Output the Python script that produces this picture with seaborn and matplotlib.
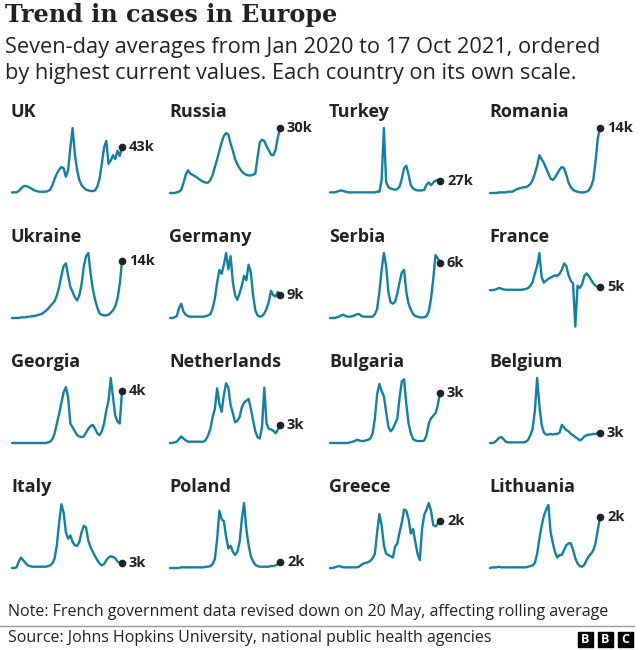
import numpy as np
import pandas as pd
import matplotlib
matplotlib.use("Agg")
import matplotlib.pyplot as plt
import seaborn as sns
from matplotlib.patches import Rectangle

# Seven-day averages, each country scaled to its own max (=100), ~2 week steps
countries = ["UK", "Russia", "Turkey", "Romania",
             "Ukraine", "Germany", "Serbia", "France",
             "Georgia", "Netherlands", "Bulgaria", "Belgium",
             "Italy", "Poland", "Greece", "Lithuania"]
latest = ["43k", "30k", "27k", "14k", "14k", "9k", "6k", "5k",
          "4k", "3k", "3k", "3k", "3k", "2k", "2k", "2k"]

uk = [1, 1, 1, 3, 7, 10, 11, 10, 8, 6, 4, 3, 2, 2, 2, 2, 3, 5, 12, 22,
      30, 36, 40, 38, 25, 35, 70, 100, 60, 35, 20, 12, 8, 5, 4, 3, 3, 4, 10, 22,
      45, 70, 80, 45, 50, 58, 52, 65, 57, 71]
russia = [0, 0, 0, 1, 2, 5, 15, 28, 35, 30, 28, 26, 24, 21, 19, 17, 16, 16, 20, 28,
          40, 52, 65, 78, 88, 92, 90, 76, 65, 52, 44, 38, 33, 30, 28, 27, 27, 28, 30, 55,
          78, 82, 80, 72, 66, 59, 58, 66, 85, 100]
turkey = [1, 1, 1, 2, 3, 4, 3, 2, 1, 1, 1, 1, 1, 1, 1, 1, 1, 1, 1, 1,
          1, 2, 2, 20, 100, 17, 9, 7, 6, 5, 6, 10, 22, 38, 42, 28, 12, 7, 5, 4,
          4, 4, 5, 13, 16, 12, 16, 19, 20, 18]
romania = [0, 0, 0, 0, 1, 1, 1, 1, 2, 2, 2, 4, 6, 7, 8, 9, 9, 11, 14, 20,
           30, 42, 58, 52, 46, 38, 30, 22, 20, 24, 30, 36, 40, 38, 28, 16, 9, 5, 3, 2,
           1, 1, 1, 2, 4, 10, 20, 48, 84, 100]
ukraine = [0, 0, 0, 0, 1, 1, 1, 2, 2, 3, 3, 4, 5, 6, 8, 11, 14, 18, 22, 26,
           35, 48, 65, 80, 84, 65, 48, 40, 32, 27, 35, 52, 80, 95, 100, 68, 45, 28, 16, 7,
           5, 4, 4, 5, 8, 12, 18, 30, 52, 87]
germany = [0, 0, 1, 3, 15, 22, 10, 5, 3, 2, 2, 2, 2, 2, 2, 2, 3, 4, 6, 15,
           30, 55, 74, 68, 82, 100, 75, 95, 55, 35, 28, 38, 50, 65, 58, 82, 70, 35, 12, 4,
           2, 3, 7, 14, 25, 42, 35, 33, 40, 35]
serbia = [0, 0, 0, 1, 2, 4, 5, 3, 2, 2, 3, 4, 6, 6, 3, 2, 2, 2, 2, 2,
          6, 14, 40, 74, 100, 80, 40, 24, 22, 25, 38, 55, 70, 74, 40, 22, 13, 6, 3, 2,
          1, 1, 1, 3, 10, 30, 60, 97, 92, 85]
# France goes negative after the 20 May revision
france = [0, 0, 1, 3, 6, 4, 2, 1, 1, 1, 1, 1, 1, 1, 1, 2, 3, 6, 12, 22,
          45, 65, 100, 35, 20, 26, 30, 34, 37, 40, 38, 44, 55, 72, 65, 40, 25, 18, -98, 12,
          6, 16, 38, 45, 38, 28, 18, 12, 9, 9]
georgia = [0, 0, 0, 0, 0, 0, 0, 0, 0, 0, 0, 0, 0, 0, 0, 0, 1, 2, 6, 15,
           30, 45, 62, 78, 86, 70, 30, 24, 18, 12, 10, 9, 10, 16, 22, 26, 28, 22, 15, 12,
           18, 30, 50, 65, 100, 70, 42, 33, 30, 80]
netherlands = [0, 0, 1, 2, 6, 10, 7, 4, 2, 2, 2, 2, 2, 2, 2, 2, 5, 12, 22, 40,
               53, 84, 60, 48, 74, 92, 85, 58, 46, 32, 34, 40, 55, 62, 65, 68, 53, 35, 18, 9,
               7, 25, 85, 30, 22, 21, 19, 15, 20, 28]
bulgaria = [0, 0, 0, 0, 0, 0, 0, 0, 0, 1, 2, 3, 5, 4, 3, 3, 4, 5, 7, 15,
            38, 75, 91, 80, 72, 48, 25, 18, 22, 30, 38, 70, 95, 98, 60, 30, 15, 6, 4, 3,
            3, 3, 4, 12, 30, 38, 42, 46, 58, 77]
belgium = [0, 0, 1, 4, 8, 9, 6, 2, 1, 1, 1, 1, 1, 1, 1, 1, 2, 5, 12, 22,
           50, 100, 58, 28, 16, 13, 13, 14, 13, 14, 14, 16, 28, 24, 20, 18, 14, 12, 9, 7,
           4, 6, 10, 12, 13, 13, 14, 14, 15, 15]
italy = [0, 0, 1, 10, 16, 12, 8, 4, 3, 2, 2, 2, 2, 2, 2, 2, 3, 4, 7, 15,
         36, 70, 98, 85, 55, 45, 50, 40, 35, 34, 40, 55, 65, 62, 42, 32, 25, 18, 12, 7,
         4, 6, 12, 16, 18, 17, 15, 10, 8, 7]
poland = [0, 0, 0, 0, 0, 1, 1, 1, 1, 1, 1, 1, 1, 1, 1, 1, 2, 2, 3, 6,
          14, 45, 88, 75, 72, 48, 30, 34, 25, 20, 25, 40, 75, 100, 60, 35, 18, 10, 5, 3,
          2, 2, 2, 2, 2, 3, 3, 4, 6, 9]
greece = [0, 0, 1, 2, 3, 2, 1, 1, 1, 1, 1, 1, 1, 2, 5, 7, 8, 9, 11, 15,
          22, 55, 83, 65, 35, 22, 20, 18, 16, 33, 38, 55, 70, 90, 88, 75, 53, 60, 40, 22,
          12, 60, 82, 90, 100, 88, 66, 64, 68, 73]
lithuania = [0, 1, 1, 1, 2, 1, 1, 1, 1, 1, 1, 1, 1, 1, 1, 1, 1, 2, 3, 4,
             8, 22, 45, 65, 80, 90, 97, 55, 38, 24, 16, 20, 20, 28, 35, 38, 38, 28, 15, 7,
             3, 2, 5, 12, 18, 22, 27, 38, 58, 78]

series = [uk, russia, turkey, romania, ukraine, germany, serbia, france,
          georgia, netherlands, bulgaria, belgium, italy, poland, greece, lithuania]

LINE = "#1380A1"
TEXT = "#222222"
W, H = 640, 650

sns.set_style("white")
plt.rcParams["font.family"] = ["Open Sans", "DejaVu Sans"]

fig = plt.figure(figsize=(W / 100, H / 100), dpi=100)
fig.patch.set_facecolor("white")

col_left = [12, 170, 330, 490]
row_top = [128, 253, 378, 503]
pw, ph = 110, 65

for k, (name, vals, lab) in enumerate(zip(countries, series, latest)):
    r, c = divmod(k, 4)
    ax = fig.add_axes([col_left[c] / W, 1 - (row_top[r] + ph) / H, pw / W, ph / H])
    df = pd.DataFrame({"t": np.arange(len(vals)), "v": vals})
    sns.lineplot(data=df, x="t", y="v", ax=ax, color=LINE, linewidth=1.7)
    for ln in ax.lines:
        ln.set_clip_on(False)
    ax.set_xlim(0, len(vals) - 1)
    ax.set_ylim(-75 if name == "France" else 0, 100)
    ax.set_axis_off()
    ax.plot([df.t.iloc[-1]], [df.v.iloc[-1]], "o", color=TEXT, markersize=4.5, clip_on=False)
    ax.annotate(lab, (df.t.iloc[-1], df.v.iloc[-1]), xytext=(5, 0), textcoords="offset points",
                va="center", ha="left", fontsize=10.5, fontweight="bold", color=TEXT)
    ax.annotate(name, (0, 1), xycoords="axes fraction", xytext=(-1, 16), textcoords="offset pixels",
                va="center", ha="left", fontsize=13, fontweight="bold", color=TEXT)

# titles
fig.text(5 / W, 1 - 15 / H, "Trend in cases in Europe", fontsize=17.2, fontweight="bold",
         family=["DejaVu Serif"], color=TEXT, va="center")
fig.text(5 / W, 1 - 48 / H, "Seven-day averages from Jan 2020 to 17 Oct 2021, ordered",
         fontsize=15.7, color=TEXT, va="center")
fig.text(5 / W, 1 - 74 / H, "by highest current values. Each country on its own scale.",
         fontsize=15.7, color=TEXT, va="center")

# footer
fig.text(8 / W, 1 - 612 / H, "Note: French government data revised down on 20 May, affecting rolling average",
         fontsize=11.5, color=TEXT, va="center")
fig.add_artist(plt.Line2D([0, 634 / W], [1 - 626 / H, 1 - 626 / H], color="#999999", linewidth=1))
fig.text(8 / W, 1 - 638 / H, "Source: Johns Hopkins University, national public health agencies",
         fontsize=11.5, color=TEXT, va="center")
for i, ch in enumerate("BBC"):
    x0 = 578 + i * 20
    fig.add_artist(Rectangle((x0 / W, 1 - 647 / H), 15 / W, 15 / H, color="#000000"))
    fig.text((x0 + 7.5) / W, 1 - 639.5 / H, ch, fontsize=9, fontweight="bold", color="white",
             ha="center", va="center")

fig.savefig("out.png", dpi=100)
